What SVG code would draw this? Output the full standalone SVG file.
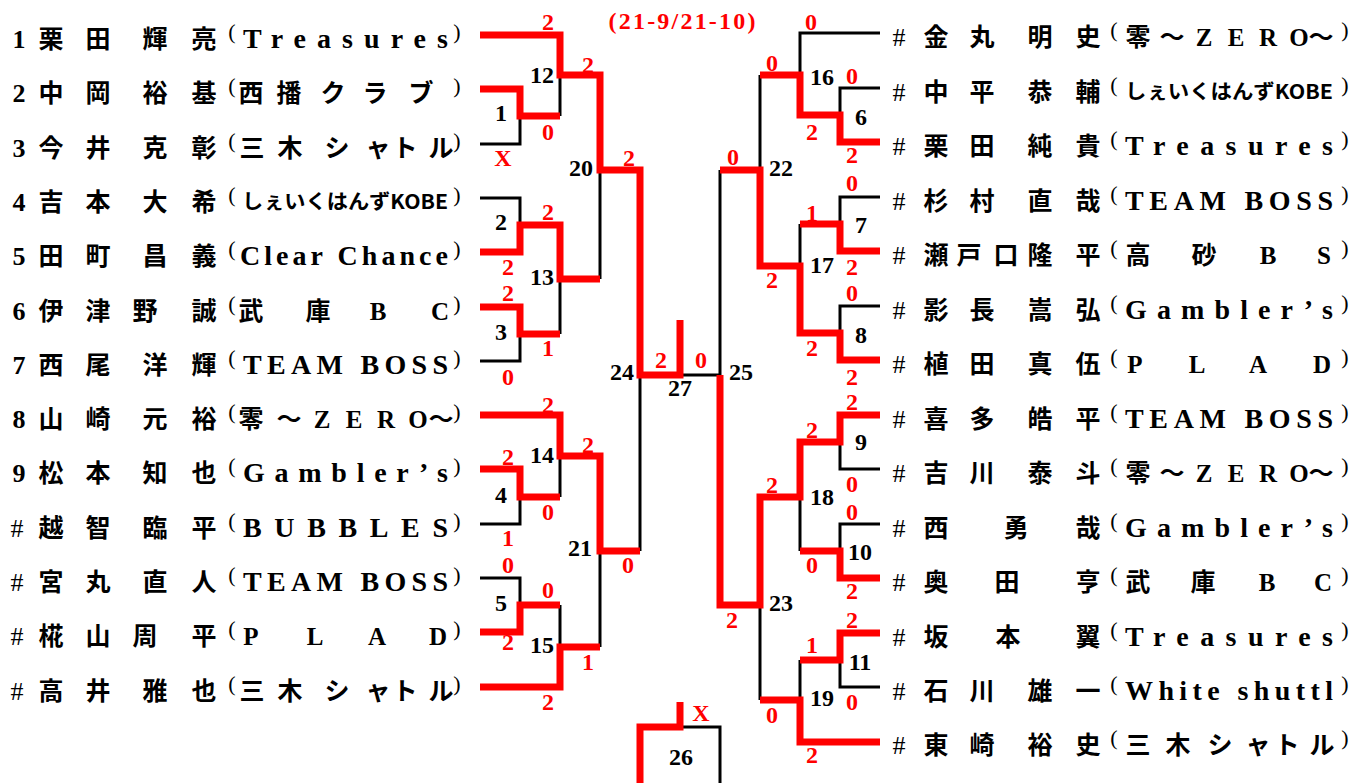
<svg xmlns="http://www.w3.org/2000/svg" width="1369" height="783" viewBox="0 0 1369 783">
<style>
.bk{fill:none;stroke:#000;stroke-width:3;stroke-linejoin:miter}
.rd{fill:none;stroke:#ff0000;stroke-width:7;stroke-linejoin:miter}
.num{font-family:"Liberation Serif",serif;font-weight:700;font-size:26px;text-anchor:middle;fill:#000}
.sh{font-family:"Liberation Serif",serif;font-weight:400;font-size:26px;text-anchor:middle;fill:#000}
.nm{font-family:"Noto Sans CJK JP",sans-serif;font-weight:700;font-size:25px;text-anchor:middle;fill:#000}
.tm{font-family:"Liberation Serif","Noto Sans CJK JP",serif;font-weight:700;font-size:28px;fill:#000}
.tmc{font-family:"Liberation Serif","Noto Sans CJK JP",sans-serif;font-weight:700;font-size:25px;text-anchor:middle;fill:#000}
.kb{font-family:"Noto Sans CJK JP",sans-serif;font-weight:700;font-size:20px;fill:#000}
.pr{font-family:"Liberation Serif",serif;font-size:22px;text-anchor:middle;fill:#000}
.sc{font-family:"Liberation Serif",serif;font-weight:700;font-size:24px;text-anchor:middle;fill:#ff0000}
.mn{font-family:"Liberation Serif",serif;font-weight:700;font-size:24px;text-anchor:middle;fill:#000}
</style>
<rect width="1369" height="783" fill="#fff"/>

<g id="connectors">
  <path class="bk" d="M480,144 H520 V116"/>
  <path class="bk" d="M560,116 V75"/>
  <path class="bk" d="M480,198 H520 V225"/>
  <path class="bk" d="M480,361 H520 V334"/>
  <path class="bk" d="M560,334 V279"/>
  <path class="bk" d="M600,279 V170"/>
  <path class="bk" d="M480,524 H520 V497"/>
  <path class="bk" d="M560,497 V456"/>
  <path class="bk" d="M480,578 H520 V605"/>
  <path class="bk" d="M560,605 V647"/>
  <path class="bk" d="M600,647 V551"/>
  <path class="bk" d="M640,551 V375"/>
  <path class="bk" d="M680,375 H720"/>
  <path class="bk" d="M880,33 H800 V75"/>
  <path class="bk" d="M880,88 H840 V115"/>
  <path class="bk" d="M880,197 H840 V224"/>
  <path class="bk" d="M800,224 V266"/>
  <path class="bk" d="M880,306 H840 V333"/>
  <path class="bk" d="M760,75 V170"/>
  <path class="bk" d="M720,170 V375"/>
  <path class="bk" d="M880,469 H840 V442"/>
  <path class="bk" d="M880,524 H840 V551"/>
  <path class="bk" d="M800,551 V497"/>
  <path class="bk" d="M880,687 H840 V660"/>
  <path class="bk" d="M800,660 V700"/>
  <path class="bk" d="M760,700 V605"/>
  <path class="bk" d="M680,727 H720 V783"/>
  <path class="rd" d="M480,35 H560 V75 H600 V170 H640 V375 H680 V320"/>
  <path class="rd" d="M480,89 H520 V116 H560"/>
  <path class="rd" d="M480,252 H520 V225 H560 V279 H600"/>
  <path class="rd" d="M480,307 H520 V334 H560"/>
  <path class="rd" d="M480,415 H560 V456 H600 V551 H640"/>
  <path class="rd" d="M480,469 H520 V497 H560"/>
  <path class="rd" d="M480,632 H520 V605 H560"/>
  <path class="rd" d="M480,687 H560 V647 H600"/>
  <path class="rd" d="M880,142 H840 V115 H800 V75 H760"/>
  <path class="rd" d="M880,251 H840 V224 H800"/>
  <path class="rd" d="M880,360 H840 V333 H800 V266 H760 V170 H720"/>
  <path class="rd" d="M880,415 H840 V442 H800 V497 H760 V605 H720 V375"/>
  <path class="rd" d="M880,578 H840 V551 H800"/>
  <path class="rd" d="M880,633 H840 V660 H800"/>
  <path class="rd" d="M880,742 H800 V700 H760"/>
  <path class="rd" d="M640,783 V727 H680 V702"/>
</g>

<g id="scores">
  <text class="sc" x="682" y="29" textLength="147" lengthAdjust="spacing">(21-9/21-10)</text>
  <text class="sc" x="548" y="30">2</text>
  <text class="sc" x="588" y="73">2</text>
  <text class="sc" x="548" y="140">0</text>
  <text class="sc" x="503" y="166">X</text>
  <text class="sc" x="629" y="166">2</text>
  <text class="sc" x="548" y="220">2</text>
  <text class="sc" x="508" y="275">2</text>
  <text class="sc" x="508" y="301">2</text>
  <text class="sc" x="548" y="356">1</text>
  <text class="sc" x="508" y="385">0</text>
  <text class="sc" x="661" y="368">2</text>
  <text class="sc" x="701" y="368">0</text>
  <text class="sc" x="548" y="413">2</text>
  <text class="sc" x="588" y="453">2</text>
  <text class="sc" x="508" y="465">2</text>
  <text class="sc" x="548" y="520">0</text>
  <text class="sc" x="508" y="546">1</text>
  <text class="sc" x="508" y="573">0</text>
  <text class="sc" x="628" y="573">0</text>
  <text class="sc" x="548" y="598">0</text>
  <text class="sc" x="508" y="650">2</text>
  <text class="sc" x="588" y="670">1</text>
  <text class="sc" x="548" y="710">2</text>
  <text class="sc" x="701" y="721">X</text>
  <text class="sc" x="811" y="30">0</text>
  <text class="sc" x="772" y="71">0</text>
  <text class="sc" x="852" y="84">0</text>
  <text class="sc" x="812" y="140">2</text>
  <text class="sc" x="733" y="165">0</text>
  <text class="sc" x="852" y="163">2</text>
  <text class="sc" x="852" y="191">0</text>
  <text class="sc" x="812" y="221">1</text>
  <text class="sc" x="852" y="275">2</text>
  <text class="sc" x="772" y="288">2</text>
  <text class="sc" x="852" y="301">0</text>
  <text class="sc" x="812" y="356">2</text>
  <text class="sc" x="852" y="385">2</text>
  <text class="sc" x="852" y="410">2</text>
  <text class="sc" x="812" y="438">2</text>
  <text class="sc" x="772" y="493">2</text>
  <text class="sc" x="852" y="492">0</text>
  <text class="sc" x="852" y="520">0</text>
  <text class="sc" x="812" y="573">0</text>
  <text class="sc" x="852" y="599">2</text>
  <text class="sc" x="732" y="628">2</text>
  <text class="sc" x="852" y="628">2</text>
  <text class="sc" x="812" y="653">1</text>
  <text class="sc" x="852" y="710">0</text>
  <text class="sc" x="772" y="723">0</text>
  <text class="sc" x="812" y="763">2</text>
</g>

<g id="matches">
  <g id="m1"><text class="mn" x="501" y="121">1</text></g>
  <g id="m2"><text class="mn" x="501" y="230">2</text></g>
  <g id="m3"><text class="mn" x="501" y="340">3</text></g>
  <g id="m4"><text class="mn" x="501" y="503">4</text></g>
  <g id="m5"><text class="mn" x="501" y="611">5</text></g>
  <g id="m6"><text class="mn" x="861" y="125">6</text></g>
  <g id="m7"><text class="mn" x="861" y="233">7</text></g>
  <g id="m8"><text class="mn" x="861" y="343">8</text></g>
  <g id="m9"><text class="mn" x="861" y="450">9</text></g>
  <g id="m10"><text class="mn" x="860" y="560">10</text></g>
  <g id="m11"><text class="mn" x="860" y="670">11</text></g>
  <g id="m12"><text class="mn" x="542" y="83">12</text></g>
  <g id="m13"><text class="mn" x="542" y="285">13</text></g>
  <g id="m14"><text class="mn" x="542" y="463">14</text></g>
  <g id="m15"><text class="mn" x="542" y="653">15</text></g>
  <g id="m16"><text class="mn" x="822" y="85">16</text></g>
  <g id="m17"><text class="mn" x="822" y="273">17</text></g>
  <g id="m18"><text class="mn" x="822" y="505">18</text></g>
  <g id="m19"><text class="mn" x="822" y="706">19</text></g>
  <g id="m20"><text class="mn" x="581" y="176">20</text></g>
  <g id="m21"><text class="mn" x="580" y="556">21</text></g>
  <g id="m22"><text class="mn" x="781" y="176">22</text></g>
  <g id="m23"><text class="mn" x="781" y="611">23</text></g>
  <g id="m24"><text class="mn" x="622" y="380">24</text></g>
  <g id="m25"><text class="mn" x="741" y="380">25</text></g>
  <g id="m26"><text class="mn" x="681" y="765">26</text></g>
  <g id="m27"><text class="mn" x="680" y="396">27</text></g>
</g>

<g id="players-left">
  <g id="L1"><text class="num" x="19" y="48">1</text><text class="nm" x="51 98 155 204" y="48">栗田輝亮</text><text class="pr" x="232" y="39">(</text><text class="tm" x="243" y="48" textLength="205" lengthAdjust="spacing">Treasures</text><text class="pr" x="457" y="39">)</text></g>
  <g id="L2"><text class="num" x="19" y="102">2</text><text class="nm" x="51 98 155 204" y="102">中岡裕基</text><text class="pr" x="232" y="93">(</text><text class="tmc" x="251 289 333 375 421" y="102">西播クラブ</text><text class="pr" x="457" y="93">)</text></g>
  <g id="L3"><text class="num" x="19" y="157">3</text><text class="nm" x="51 98 155 204" y="157">今井克彰</text><text class="pr" x="232" y="148">(</text><text class="tmc" x="252 290 337 378 405 441" y="157">三木シャトル</text><text class="pr" x="457" y="148">)</text></g>
  <g id="L4"><text class="num" x="19" y="211">4</text><text class="nm" x="51 98 155 204" y="211">吉本大希</text><text class="pr" x="232" y="202">(</text><text class="kb" x="242" y="209" textLength="206" lengthAdjust="spacingAndGlyphs">しぇいくはんずKOBE</text><text class="pr" x="457" y="202">)</text></g>
  <g id="L5"><text class="num" x="19" y="265">5</text><text class="nm" x="51 98 155 204" y="265">田町昌義</text><text class="pr" x="232" y="256">(</text><text class="tm" x="240" y="265" textLength="208" lengthAdjust="spacing">Clear Chance</text><text class="pr" x="457" y="256">)</text></g>
  <g id="L6"><text class="num" x="19" y="320">6</text><text class="nm" x="51 98 145 204" y="320">伊津野誠</text><text class="pr" x="232" y="311">(</text><text class="tmc" x="251 318 378 440" y="320">武庫BC</text><text class="pr" x="457" y="311">)</text></g>
  <g id="L7"><text class="num" x="19" y="374">7</text><text class="nm" x="51 98 155 204" y="374">西尾洋輝</text><text class="pr" x="232" y="365">(</text><text class="tm" x="243" y="374" textLength="205" lengthAdjust="spacing">TEAM BOSS</text><text class="pr" x="457" y="365">)</text></g>
  <g id="L8"><text class="num" x="19" y="428">8</text><text class="nm" x="51 98 155 204" y="428">山崎元裕</text><text class="pr" x="232" y="419">(</text><text class="tmc" x="251 289 322 354 386 418 441" y="428">零～ZERO～</text><text class="pr" x="457" y="419">)</text></g>
  <g id="L9"><text class="num" x="19" y="482">9</text><text class="nm" x="51 98 155 204" y="482">松本知也</text><text class="pr" x="232" y="473">(</text><text class="tm" x="243" y="482" textLength="205" lengthAdjust="spacing">Gambler’s</text><text class="pr" x="457" y="473">)</text></g>
  <g id="L10"><text class="sh" x="17" y="537">#</text><text class="nm" x="51 98 155 204" y="537">越智臨平</text><text class="pr" x="232" y="528">(</text><text class="tm" x="243" y="537" textLength="205" lengthAdjust="spacing">BUBBLES</text><text class="pr" x="457" y="528">)</text></g>
  <g id="L11"><text class="sh" x="17" y="591">#</text><text class="nm" x="51 98 155 204" y="591">宮丸直人</text><text class="pr" x="232" y="582">(</text><text class="tm" x="243" y="591" textLength="205" lengthAdjust="spacing">TEAM BOSS</text><text class="pr" x="457" y="582">)</text></g>
  <g id="L12"><text class="sh" x="17" y="645">#</text><text class="nm" x="51 98 145 204" y="645">椛山周平</text><text class="pr" x="232" y="636">(</text><text class="tmc" x="251 315 377 438" y="645">PLAD</text><text class="pr" x="457" y="636">)</text></g>
  <g id="L13"><text class="sh" x="17" y="700">#</text><text class="nm" x="51 98 155 204" y="700">高井雅也</text><text class="pr" x="232" y="691">(</text><text class="tmc" x="252 290 337 378 405 441" y="700">三木シャトル</text><text class="pr" x="457" y="691">)</text></g>
</g>

<g id="players-right">
  <g id="R1"><text class="sh" x="899" y="46">#</text><text class="nm" x="936 982 1040 1088" y="46">金丸明史</text><text class="pr" x="1114" y="37">(</text><text class="tmc" x="1138 1172 1204 1236 1268 1299 1321" y="46">零～ZERO～</text><text class="pr" x="1345" y="37">)</text></g>
  <g id="R2"><text class="sh" x="899" y="101">#</text><text class="nm" x="936 982 1040 1088" y="101">中平恭輔</text><text class="pr" x="1114" y="92">(</text><text class="kb" x="1125" y="99" textLength="208" lengthAdjust="spacingAndGlyphs">しぇいくはんずKOBE</text><text class="pr" x="1345" y="92">)</text></g>
  <g id="R3"><text class="sh" x="899" y="155">#</text><text class="nm" x="936 982 1040 1088" y="155">栗田純貴</text><text class="pr" x="1114" y="146">(</text><text class="tm" x="1125" y="155" textLength="208" lengthAdjust="spacing">Treasures</text><text class="pr" x="1345" y="146">)</text></g>
  <g id="R4"><text class="sh" x="899" y="210">#</text><text class="nm" x="936 982 1040 1088" y="210">杉村直哉</text><text class="pr" x="1114" y="201">(</text><text class="tm" x="1125" y="210" textLength="208" lengthAdjust="spacing">TEAM BOSS</text><text class="pr" x="1345" y="201">)</text></g>
  <g id="R5"><text class="sh" x="899" y="264">#</text><text class="nm" x="936 969 1006 1040 1088" y="264">瀬戸口隆平</text><text class="pr" x="1114" y="255">(</text><text class="tmc" x="1138 1204 1268 1324" y="264">高砂BS</text><text class="pr" x="1345" y="255">)</text></g>
  <g id="R6"><text class="sh" x="899" y="319">#</text><text class="nm" x="936 982 1040 1088" y="319">影長嵩弘</text><text class="pr" x="1114" y="310">(</text><text class="tm" x="1125" y="319" textLength="208" lengthAdjust="spacing">Gambler’s</text><text class="pr" x="1345" y="310">)</text></g>
  <g id="R7"><text class="sh" x="899" y="373">#</text><text class="nm" x="936 982 1040 1088" y="373">植田真伍</text><text class="pr" x="1114" y="364">(</text><text class="tmc" x="1135 1197 1258 1322" y="373">PLAD</text><text class="pr" x="1345" y="364">)</text></g>
  <g id="R8"><text class="sh" x="899" y="428">#</text><text class="nm" x="936 982 1040 1088" y="428">喜多皓平</text><text class="pr" x="1114" y="419">(</text><text class="tm" x="1125" y="428" textLength="208" lengthAdjust="spacing">TEAM BOSS</text><text class="pr" x="1345" y="419">)</text></g>
  <g id="R9"><text class="sh" x="899" y="482">#</text><text class="nm" x="936 982 1040 1088" y="482">吉川泰斗</text><text class="pr" x="1114" y="473">(</text><text class="tmc" x="1138 1172 1204 1236 1268 1299 1321" y="482">零～ZERO～</text><text class="pr" x="1345" y="473">)</text></g>
  <g id="R10"><text class="sh" x="899" y="537">#</text><text class="nm" x="936 1016 1088" y="537">西勇哉</text><text class="pr" x="1114" y="528">(</text><text class="tm" x="1125" y="537" textLength="208" lengthAdjust="spacing">Gambler’s</text><text class="pr" x="1345" y="528">)</text></g>
  <g id="R11"><text class="sh" x="899" y="591">#</text><text class="nm" x="936 1007 1088" y="591">奥田亨</text><text class="pr" x="1114" y="582">(</text><text class="tmc" x="1138 1203 1267 1323" y="591">武庫BC</text><text class="pr" x="1345" y="582">)</text></g>
  <g id="R12"><text class="sh" x="899" y="646">#</text><text class="nm" x="936 1008 1088" y="646">坂本翼</text><text class="pr" x="1114" y="637">(</text><text class="tm" x="1125" y="646" textLength="208" lengthAdjust="spacing">Treasures</text><text class="pr" x="1345" y="637">)</text></g>
  <g id="R13"><text class="sh" x="899" y="700">#</text><text class="nm" x="936 982 1040 1088" y="700">石川雄一</text><text class="pr" x="1114" y="691">(</text><text class="tm" x="1125" y="700" textLength="208" lengthAdjust="spacing">White shuttl</text><text class="pr" x="1345" y="691">)</text></g>
  <g id="R14"><text class="sh" x="899" y="754">#</text><text class="nm" x="936 982 1040 1088" y="754">東崎裕史</text><text class="pr" x="1114" y="745">(</text><text class="tmc" x="1138 1178 1220 1258 1287 1322" y="754">三木シャトル</text><text class="pr" x="1345" y="745">)</text></g>
</g>
</svg>
